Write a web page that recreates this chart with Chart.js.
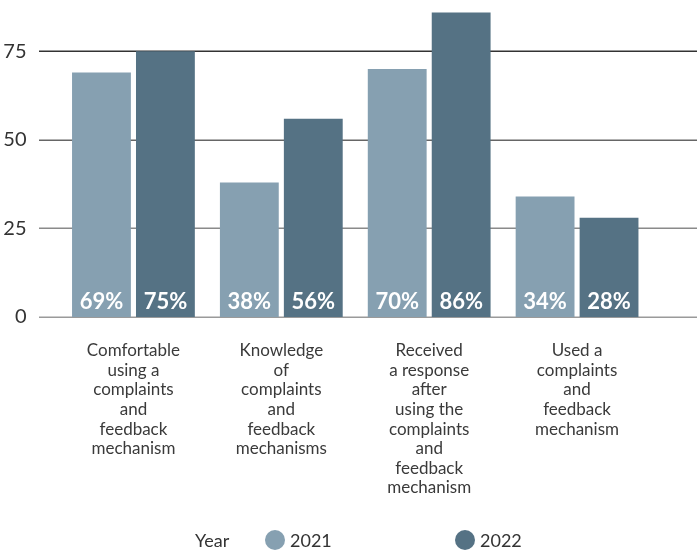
<!DOCTYPE html>
<html>
<head>
<meta charset="utf-8">
<script src="https://cdn.jsdelivr.net/npm/chart.js@4.4.1/dist/chart.umd.min.js"></script>
<style>
  html, body { margin: 0; padding: 0; background: #fff; }
</style>
</head>
<body>
<canvas id="grafica" width="697" height="550"></canvas>
<script>
// Datos
const categorias = [
    ["Comfortable", "using a", "complaints", "and", "feedback", "mechanism"],
    ["Knowledge", "of", "complaints", "and", "feedback", "mechanisms"],
    ["Received", "a response", "after", "using the", "complaints", "and", "feedback", "mechanism"],
    ["Used a", "complaints", "and", "feedback", "mechanism"]
];
const anios = ["2021", "2022"];
const valores2021 = [69, 38, 70, 34];
const valores2022 = [75, 56, 86, 28];
const ticksY = [0, 25, 50, 75];

const colores = ["#86a0b1", "#557284"];
const fuente = "Lato, 'Open Sans', sans-serif";

// Lineas de la cuadricula, mas largas que el area del grafico
const lineasGrid = {
    id: "lineasGrid",
    beforeDatasetsDraw(chart) {
        const { ctx, scales: { y } } = chart;
        const tonos = { 0: "#9a9a9a", 25: "#8a8a8a", 50: "#666", 75: "#333" };
        ctx.save();
        ctx.lineWidth = 1.5;
        ticksY.forEach(v => {
            const py = Math.round(y.getPixelForValue(v)) + 0.25;
            ctx.strokeStyle = tonos[v];
            ctx.beginPath();
            ctx.moveTo(39, py);
            ctx.lineTo(chart.width, py);
            ctx.stroke();
        });
        ctx.restore();
    }
};

// Porcentaje dentro de cada barra, abajo
const etiquetasBarras = {
    id: "etiquetasBarras",
    afterDatasetsDraw(chart) {
        const { ctx } = chart;
        ctx.save();
        ctx.fillStyle = "#fff";
        ctx.font = "bold 22px " + fuente;
        ctx.textAlign = "center";
        ctx.textBaseline = "alphabetic";
        chart.data.datasets.forEach((ds, i) => {
            chart.getDatasetMeta(i).data.forEach((bar, j) => {
                ctx.fillText(ds.data[j] + "%", bar.x, bar.base - 8);
            });
        });
        ctx.restore();
    }
};

// Leyenda abajo: "Year" y un circulo por serie
const leyenda = {
    id: "leyenda",
    afterDraw(chart) {
        const { ctx } = chart;
        const yLey = 540;
        ctx.save();
        ctx.font = "18px " + fuente;
        ctx.textBaseline = "middle";
        ctx.fillStyle = "#333";
        ctx.fillText("Year", 195, yLey + 1);
        const xs = [275, 465];
        chart.data.datasets.forEach((ds, i) => {
            ctx.fillStyle = ds.backgroundColor;
            ctx.beginPath();
            ctx.arc(xs[i], yLey, 10, 0, Math.PI * 2);
            ctx.fill();
            ctx.fillStyle = "#333";
            ctx.fillText(ds.label, xs[i] + 15, yLey + 1);
        });
        ctx.restore();
    }
};

new Chart(document.getElementById("grafica"), {
    type: "bar",
    data: {
        labels: categorias,
        datasets: [
            { label: anios[0], data: valores2021, backgroundColor: colores[0] },
            { label: anios[1], data: valores2022, backgroundColor: colores[1] }
        ]
    },
    options: {
        responsive: false,
        animation: false,
        layout: { padding: { top: 0, right: 46, bottom: 0, left: 0 } },
        datasets: { bar: { categoryPercentage: 0.865, barPercentage: 0.92 } },
        plugins: {
            legend: { display: false },
            tooltip: { enabled: false }
        },
        scales: {
            x: {
                grid: { display: false },
                border: { display: false },
                ticks: {
                    color: "#3a3a3a",
                    font: { family: fuente, size: 17, lineHeight: "19.6px" },
                    padding: 16,
                    maxRotation: 0,
                    autoSkip: false
                },
                afterFit(scale) { scale.height = 233; }
            },
            y: {
                min: 0,
                max: 89.5,
                grid: { display: false },
                border: { display: false },
                afterBuildTicks(axis) {
                    axis.ticks = ticksY.map(v => ({ value: v }));
                },
                ticks: {
                    color: "#333",
                    font: { family: fuente, size: 20 },
                    padding: 25
                },
                afterFit(scale) {
                    scale.width = 59.5;
                    scale.paddingTop = 0;
                    scale.paddingBottom = 0;
                }
            }
        }
    },
    plugins: [lineasGrid, etiquetasBarras, leyenda]
});
</script>
</body>
</html>
